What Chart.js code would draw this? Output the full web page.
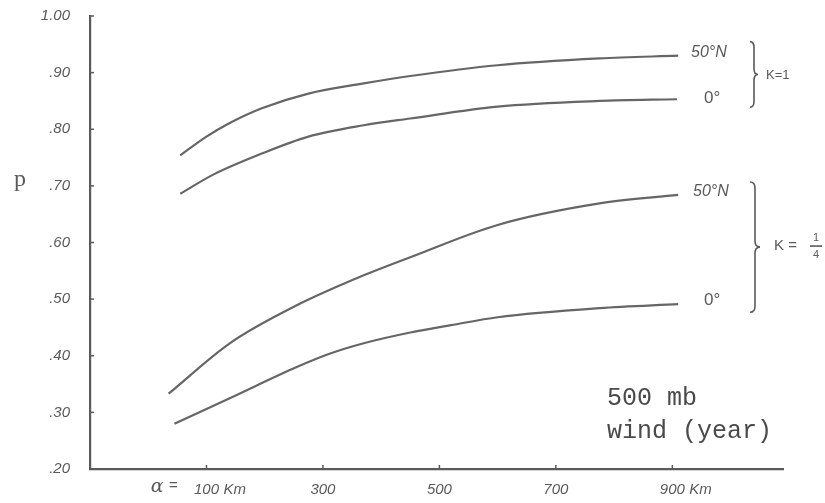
<!DOCTYPE html>
<html>
<head>
<meta charset="utf-8">
<script src="https://cdn.jsdelivr.net/npm/chart.js@4.4.1/dist/chart.umd.min.js"></script>
<style>
  html, body { margin: 0; padding: 0; background: #fff; }
  #wrap { width: 825px; height: 503px; position: relative; }
</style>
</head>
<body>
<div id="wrap"><canvas id="chart"></canvas></div>
<script>
// tick values
const xTicks = [100, 300, 500, 700, 900];
const yTicks = [0.2, 0.3, 0.4, 0.5, 0.6, 0.7, 0.8, 0.9, 1.0];

// K = 1, 50°N
const xK1N50 = [55, 100, 140, 195, 275, 370, 450, 600, 775, 910];
const pK1N50 = [0.754, 0.787, 0.811, 0.837, 0.863, 0.881, 0.894, 0.913, 0.925, 0.930];
// K = 1, 0°
const xK1Eq = [55, 110, 195, 275, 370, 450, 600, 775, 908];
const pK1Eq = [0.686, 0.719, 0.757, 0.787, 0.807, 0.819, 0.840, 0.850, 0.853];
// K = 1/4, 50°N
const xK4N50 = [35, 140, 255, 370, 450, 600, 775, 910];
const pK4N50 = [0.333, 0.422, 0.489, 0.542, 0.574, 0.631, 0.669, 0.684];
// K = 1/4, 0°
const xK4Eq = [45, 140, 255, 310, 370, 450, 520, 600, 775, 910];
const pK4Eq = [0.280, 0.325, 0.380, 0.403, 0.422, 0.441, 0.454, 0.468, 0.484, 0.491];

const ink = '#5a5a5a';
const handFont = 'italic 15px "Liberation Sans", sans-serif';

function pts(xs, ys) {
    return xs.map((x, i) => ({ x: x, y: ys[i] }));
}

function curve(label, xs, ys) {
    return {
        label: label,
        data: pts(xs, ys),
        borderColor: '#666',
        borderWidth: 2.2,
        pointRadius: 0,
        cubicInterpolationMode: 'monotone',
        fill: false
    };
}

function brace(ctx, x, y1, y2, w) {
    const mid = (y1 + y2) / 2;
    ctx.beginPath();
    ctx.moveTo(x, y1);
    ctx.quadraticCurveTo(x + w, y1, x + w, y1 + 6);
    ctx.lineTo(x + w, mid - 6);
    ctx.quadraticCurveTo(x + w, mid, x + 2 * w, mid);
    ctx.quadraticCurveTo(x + w, mid, x + w, mid + 6);
    ctx.lineTo(x + w, y2 - 6);
    ctx.quadraticCurveTo(x + w, y2, x, y2);
    ctx.stroke();
}

// tick marks inside the axes, extra labels and annotations
const annotations = {
    id: 'annotations',
    afterDraw(chart) {
        const ctx = chart.ctx;
        const xs = chart.scales.x, ys = chart.scales.y;
        const area = chart.chartArea;
        ctx.save();
        ctx.strokeStyle = ink;
        ctx.fillStyle = ink;
        ctx.lineWidth = 1.5;

        yTicks.forEach(v => {
            const y = ys.getPixelForValue(v);
            ctx.beginPath();
            ctx.moveTo(area.left, y);
            ctx.lineTo(area.left + 4, y);
            ctx.stroke();
        });
        xTicks.forEach(v => {
            const x = xs.getPixelForValue(v);
            ctx.beginPath();
            ctx.moveTo(x, area.bottom);
            ctx.lineTo(x, area.bottom - 4);
            ctx.stroke();
        });

        // axis extras
        ctx.textBaseline = 'middle';
        const labY = area.bottom + 20;
        const x100 = xs.getPixelForValue(100);
        const x900 = xs.getPixelForValue(900);
        ctx.textAlign = 'right';
        ctx.font = 'italic 19px "DejaVu Serif", serif';
        ctx.fillText('α', x100 - 43, labY - 2);
        ctx.font = handFont;
        ctx.fillText('=', x100 - 29, labY - 3);
        ctx.textAlign = 'left';
        ctx.fillText('Km', x100 + 17, labY + 1);
        ctx.fillText('Km', x900 + 17, labY + 1);

        ctx.font = '24px "Liberation Serif", serif';
        ctx.textAlign = 'center';
        ctx.fillText('p', 20, 180);

        // curve end labels
        const endY = ysArr => ys.getPixelForValue(ysArr[ysArr.length - 1]);
        const yA = endY(pK1N50) - 3;
        const yB = endY(pK1Eq) - 1;
        const yC = endY(pK4N50) - 3;
        const yD = endY(pK4Eq) - 4;
        ctx.font = 'italic 16px "Liberation Sans", sans-serif';
        ctx.textAlign = 'left';
        ctx.fillText('50°N', 691, yA);
        ctx.fillText('50°N', 693, yC);
        ctx.font = '17px "Liberation Sans", sans-serif';
        ctx.fillText('0°', 704, yB);
        ctx.fillText('0°', 704, yD);

        ctx.lineWidth = 1.6;
        brace(ctx, 750, yA - 11, yB + 9, 4);
        brace(ctx, 750, yC - 10, yD + 12, 5);

        ctx.font = '13px "Liberation Sans", sans-serif';
        ctx.fillText('K=1', 766, (yA + yB) / 2);
        const midK = (yC + yD) / 2;
        ctx.font = '15px "Liberation Sans", sans-serif';
        ctx.fillText('K =', 774, midK);
        ctx.font = '11px "Liberation Sans", sans-serif';
        ctx.textAlign = 'center';
        ctx.fillText('1', 816, midK - 8);
        ctx.fillText('4', 816, midK + 9);
        ctx.beginPath();
        ctx.moveTo(810, midK);
        ctx.lineTo(822, midK);
        ctx.stroke();

        ctx.font = '25px "Liberation Mono", monospace';
        ctx.textAlign = 'left';
        ctx.textBaseline = 'alphabetic';
        ctx.fillStyle = '#4a4a4a';
        ctx.fillText('500 mb', 607, 405);
        ctx.fillText('wind (year)', 607, 438);
        ctx.restore();
    }
};

new Chart(document.getElementById('chart'), {
    type: 'line',
    data: {
        datasets: [
            curve('50°N, K=1', xK1N50, pK1N50),
            curve('0°, K=1', xK1Eq, pK1Eq),
            curve('50°N, K=1/4', xK4N50, pK4N50),
            curve('0°, K=1/4', xK4Eq, pK4Eq)
        ]
    },
    options: {
        responsive: true,
        maintainAspectRatio: false,
        animation: false,
        layout: { padding: { top: 16, right: 42, left: 0, bottom: 0 } },
        plugins: {
            legend: { display: false },
            tooltip: { enabled: false }
        },
        scales: {
            x: {
                type: 'linear',
                min: -100,
                max: 1090,
                afterBuildTicks: s => { s.ticks = xTicks.map(v => ({ value: v })); },
                afterFit: s => { s.height = 34; s.paddingLeft = 0; s.paddingRight = 0; },
                grid: { display: false, drawTicks: false },
                border: { color: ink, width: 2.2 },
                ticks: {
                    padding: 12,
                    color: ink,
                    font: { family: '"Liberation Sans", sans-serif', style: 'italic', size: 15 },
                    callback: v => String(v)
                }
            },
            y: {
                min: 0.2,
                max: 1.0,
                afterBuildTicks: s => { s.ticks = yTicks.map(v => ({ value: v })); },
                afterFit: s => { s.width = 90; s.paddingTop = 0; s.paddingBottom = 0; },
                grid: { display: false, drawTicks: false },
                border: { color: ink, width: 2.2 },
                ticks: {
                    padding: 20,
                    color: ink,
                    font: { family: '"Liberation Sans", sans-serif', style: 'italic', size: 15 },
                    callback: v => v >= 0.999 ? '1.00' : '.' + Math.round(v * 100)
                }
            }
        }
    },
    plugins: [annotations]
});
</script>
</body>
</html>
